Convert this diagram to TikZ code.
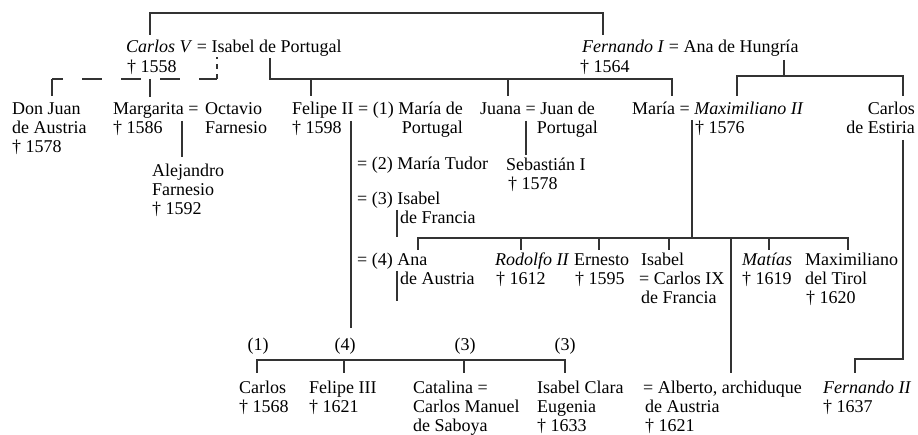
\documentclass[tikz,border=0pt]{standalone}
\usepackage{fontspec}
\setmainfont{Liberation Serif}
\begin{document}
\begin{tikzpicture}[x=1pt,y=-1pt,
  lbl/.style={anchor=base west,inner sep=0pt,text=black,font=\fontsize{18}{19}\selectfont},
  lblr/.style={lbl,anchor=base east},
  lblc/.style={lbl,anchor=base},
  ln/.style={line width=1.15pt,draw=black!80},
  dsh/.style={ln,dash pattern=on 20pt off 19pt,dash phase=9pt},
  dshv/.style={ln,dash pattern=on 5pt off 5pt}]
\useasboundingbox (0,0) rectangle (918,435);
% ---------- row 1
\node[lbl] (cv1) at (126,53) {\textit{Carlos V} = Isabel de Portugal};
\node[lbl] (cv2) at (127,73) {† 1558};
\node[lbl] (fe1) at (582,53) {\textit{Fernando I} = Ana de Hungría};
\node[lbl] (fe2) at (580,73) {† 1564};
% ---------- row 2
\node[lbl] (dj1) at (12,115) {Don Juan};
\node[lbl] (dj2) at (12,134) {de Austria};
\node[lbl] (dj3) at (12,153) {† 1578};
\node[lbl] (ma1) at (113,115) {Margarita =};
\node[lbl] (ma2) at (113,134) {† 1586};
\node[lbl] (oc1) at (205,115) {Octavio};
\node[lbl] (oc2) at (205,134) {Farnesio};
\node[lbl] (fp1) at (292,115) {Felipe II = (1) María de};
\node[lbl] (fp2) at (292,134) {† 1598};
\node[lblr] (fp3) at (463,134) {Portugal};
\node[lbl] (ju1) at (480,115) {Juana = Juan de};
\node[lblr] (ju2) at (598,134) {Portugal};
\node[lbl] (mr1) at (632,115) {María = \textit{Maximiliano II}};
\node[lbl] (mr2) at (695,134) {† 1576};
\node[lblr] (ce1) at (915,115) {Carlos};
\node[lblr] (ce2) at (915,134) {de Estiria};
% ---------- row 3
\node[lbl] (al1) at (152,177) {Alejandro};
\node[lbl] (al2) at (152,196) {Farnesio};
\node[lbl] (al3) at (152,215) {† 1592};
\node[lbl] (mt) at (357,170) {= (2) María Tudor};
\node[lbl] (sb1) at (506,171) {Sebastián I};
\node[lbl] (sb2) at (508,190) {† 1578};
\node[lbl] (ib1) at (357,205) {= (3) Isabel};
\node[lbl] (ib2) at (400,224) {de Francia};
% ---------- row 4
\node[lbl] (an1) at (357,266) {= (4) Ana};
\node[lbl] (an2) at (400,285) {de Austria};
\node[lbl] (ro1) at (495,266) {\textit{Rodolfo II}};
\node[lbl] (ro2) at (496,285) {† 1612};
\node[lbl] (er1) at (574,266) {Ernesto};
\node[lbl] (er2) at (575,285) {† 1595};
\node[lbl] (is1) at (641,266) {Isabel};
\node[lbl] (is2) at (639,285) {= Carlos IX};
\node[lbl] (is3) at (641,304) {de Francia};
\node[lbl] (mt1) at (742,266) {\textit{Matías}};
\node[lbl] (mt2) at (742,285) {† 1619};
\node[lbl] (mx1) at (805,266) {Maximiliano};
\node[lbl] (mx2) at (805,285) {del Tirol};
\node[lbl] (mx3) at (806,304) {† 1620};
% ---------- marriage labels
\node[lblc] (n1) at (258,351) {(1)};
\node[lblc] (n4) at (345,351) {(4)};
\node[lblc] (n3a) at (465,351) {(3)};
\node[lblc] (n3b) at (565,351) {(3)};
% ---------- row 5
\node[lbl] (ca1) at (239,393) {Carlos};
\node[lbl] (ca2) at (239,412) {† 1568};
\node[lbl] (f3a) at (309,393) {Felipe III};
\node[lbl] (f3b) at (309,412) {† 1621};
\node[lbl] (ct1) at (413,393) {Catalina =};
\node[lbl] (ct2) at (413,412) {Carlos Manuel};
\node[lbl] (ct3) at (413,431) {de Saboya};
\node[lbl] (ic1) at (537,393) {Isabel Clara};
\node[lbl] (ic2) at (537,412) {Eugenia};
\node[lbl] (ic3) at (537,431) {† 1633};
\node[lbl] (ab1) at (643,393) {= Alberto, archiduque};
\node[lbl] (ab2) at (645,412) {de Austria};
\node[lbl] (ab3) at (645,431) {† 1621};
\node[lbl] (f2a) at (823,393) {\textit{Fernando II}};
\node[lbl] (f2b) at (823,412) {† 1637};
% ---------- connectors
\draw[ln] (150,35) -- (150,13) -- (603,13) -- (603,35);
\draw[ln] (52,96) -- (52,79);
\draw[dsh] (52,79) -- (217,79);
\draw[dshv] (217,79) -- (217,57);
\draw[ln] (150,79) -- (150,97);
\draw[ln] (270,58) -- (270,79) -- (672,79) -- (672,96);
\draw[ln] (311,79) -- (311,96);
\draw[ln] (508,79) -- (508,96);
\draw[ln] (784,60) -- (784,76);
\draw[ln] (737,96) -- (737,76) -- (903,76) -- (903,96);
\draw[ln] (182,121) -- (182,157);
\draw[ln] (351,121) -- (351,328);
\draw[ln] (526,121) -- (526,155);
\draw[ln] (692,120) -- (692,238);
\draw[ln] (903,140) -- (903,359) -- (855,359) -- (855,373);
\draw[ln] (397,210) -- (397,237);
\draw[ln] (397,271) -- (397,301);
\draw[ln] (418,250) -- (418,238) -- (848,238) -- (848,250);
\foreach \xx in {521,599,669,769} \draw[ln] (\xx,238) -- (\xx,250);
\draw[ln] (731,238) -- (731,373);
\draw[ln] (257,373) -- (257,360) -- (565,360) -- (565,373);
\foreach \xx in {344,464} \draw[ln] (\xx,360) -- (\xx,373);
\end{tikzpicture}
\end{document}
